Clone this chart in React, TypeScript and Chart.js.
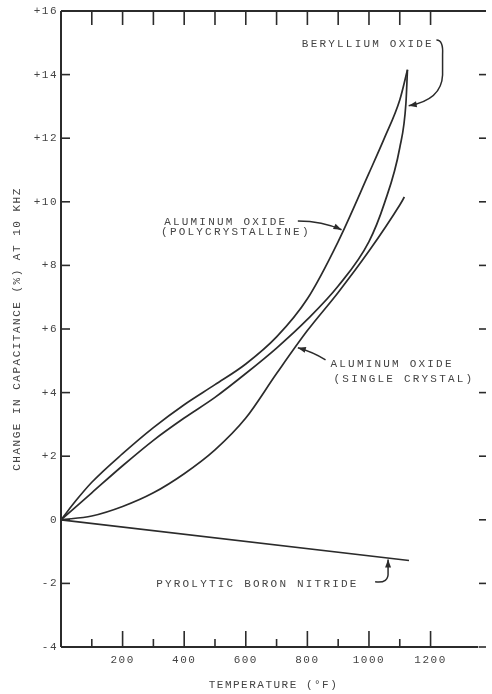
import React, { useEffect, useRef } from 'react';
import { Chart, registerables } from 'chart.js';

Chart.register(...registerables);

// ---------- data (temperature °F, change in capacitance %) ----------
const polyTemps = [0, 50, 100, 200, 300, 400, 500, 600, 700, 800, 900, 1000, 1050, 1100, 1125];
const polyChange = [0, 0.62, 1.18, 2.08, 2.9, 3.62, 4.25, 4.9, 5.75, 6.95, 8.75, 10.9, 12.0, 13.2, 14.15];

const berylTemps = [0, 100, 200, 300, 400, 500, 600, 700, 800, 900, 1000, 1050, 1100, 1120, 1125];
const berylChange = [0, 0.85, 1.7, 2.5, 3.2, 3.85, 4.6, 5.4, 6.3, 7.35, 8.75, 9.95, 11.7, 13.1, 14.15];

const crystalTemps = [0, 100, 200, 300, 400, 500, 600, 700, 800, 900, 1000, 1100, 1115];
const crystalChange = [0, 0.12, 0.42, 0.85, 1.45, 2.2, 3.2, 4.6, 5.95, 7.15, 8.45, 9.9, 10.15];

const boronTemps = [0, 1130];
const boronChange = [0, -1.28];

const xTickValues = [200, 400, 600, 800, 1000, 1200];
const xTickLabels = ['200', '400', '600', '800', '1000', '1200'];
const xMinorTicks = [100, 300, 500, 700, 900, 1100];
const topTicks = [100, 200, 300, 400, 500, 600, 700, 800, 900, 1000, 1100, 1200];

const yTickValues = [-4, -2, 0, 2, 4, 6, 8, 10, 12, 14, 16];
const yTickLabels = ['-4', '-2', '0', '+2', '+4', '+6', '+8', '+10', '+12', '+14', '+16'];

const xTitle = 'TEMPERATURE (°F)';
const yTitle = 'CHANGE IN CAPACITANCE (%) AT 10 KHZ';

// annotation texts (anchored in data coordinates: temp, %)
const annotationTexts = ['BERYLLIUM OXIDE', 'ALUMINUM OXIDE', '(POLYCRYSTALLINE)', 'ALUMINUM OXIDE', '(SINGLE CRYSTAL)', 'PYROLYTIC BORON NITRIDE'];
const annotationX = [782, 335, 325, 875, 885, 309];
const annotationY = [14.97, 9.36, 9.04, 4.91, 4.43, -2.01];

// arrows: [start, control, point, control, point ...] in data coordinates
const berylArrow = [[1219, 15.09], [1242, 15.09], [1239, 14.62], [1239, 14.31], [1239, 13.99], [1236, 13.21], [1129, 13.02]];
const polyArrow = [[769, 9.4], [849, 9.4], [911, 9.12]];
const crystalArrow = [[859, 5.03], [817, 5.28], [769, 5.41]];
const boronArrow = [[1020, -1.95], [1065, -2.01], [1062, -1.64], [1062, -1.45], [1062, -1.25]];
const arrows = [berylArrow, polyArrow, crystalArrow, boronArrow];

const FONT = "'Liberation Mono', 'DejaVu Sans Mono', monospace";
const INK = '#2b2b2b';
const TEXT = '#444';

const toPoints = (xs: number[], ys: number[]) => xs.map((x, i) => ({ x, y: ys[i] }));

export default function App() {
  const ref = useRef<HTMLCanvasElement>(null);

  useEffect(() => {
    const canvas = ref.current;
    if (!canvas) return;

    const spacingPlugin = {
      id: 'spacing',
      beforeLayout(chart: any) { chart.ctx.letterSpacing = '1.5px'; },
      beforeDraw(chart: any) { chart.ctx.letterSpacing = '1.5px'; },
    };

    const framePlugin = {
      id: 'frame',
      afterDraw(chart: any) {
        const { ctx, chartArea, scales } = chart;
        const { left, right, top, bottom } = chartArea;
        const xs = scales.x, ys = scales.y;
        const line = (x1: number, y1: number, x2: number, y2: number) => {
          ctx.beginPath(); ctx.moveTo(x1, y1); ctx.lineTo(x2, y2); ctx.stroke();
        };
        ctx.save();
        ctx.strokeStyle = INK;
        ctx.lineWidth = 2;
        line(left, top, left, bottom);
        line(left, bottom, xs.getPixelForValue(1355), bottom);
        line(left, top, right, top);
        ctx.lineWidth = 1.6;
        yTickValues.forEach(v => {
          const py = ys.getPixelForValue(v);
          line(left, py, left + 9, py);
          line(right - 7, py, right, py);
        });
        xTickValues.forEach(v => { const px = xs.getPixelForValue(v); line(px, bottom, px, bottom - 16); });
        xMinorTicks.forEach(v => { const px = xs.getPixelForValue(v); line(px, bottom, px, bottom - 8); });
        topTicks.forEach(v => { const px = xs.getPixelForValue(v); line(px, top, px, top + 14); });
        ctx.restore();
      },
    };

    const annotationPlugin = {
      id: 'notes',
      afterDraw(chart: any) {
        const { ctx, scales } = chart;
        const xs = scales.x, ys = scales.y;
        ctx.save();
        ctx.letterSpacing = '2.2px';
        ctx.font = `11px ${FONT}`;
        ctx.fillStyle = TEXT;
        ctx.textAlign = 'left';
        ctx.textBaseline = 'middle';
        annotationTexts.forEach((t, i) => {
          ctx.fillText(t, xs.getPixelForValue(annotationX[i]), ys.getPixelForValue(annotationY[i]));
        });
        ctx.strokeStyle = INK;
        ctx.fillStyle = INK;
        ctx.lineWidth = 1.5;
        arrows.forEach(pts => {
          const p = pts.map(([a, b]) => [xs.getPixelForValue(a), ys.getPixelForValue(b)]);
          ctx.beginPath();
          ctx.moveTo(p[0][0], p[0][1]);
          for (let i = 1; i + 1 < p.length; i += 2) {
            ctx.quadraticCurveTo(p[i][0], p[i][1], p[i + 1][0], p[i + 1][1]);
          }
          ctx.stroke();
          const end = p[p.length - 1];
          const prev = p[p.length - 2];
          const ang = Math.atan2(end[1] - prev[1], end[0] - prev[0]);
          const L = 8, W = 3;
          ctx.beginPath();
          ctx.moveTo(end[0], end[1]);
          ctx.lineTo(end[0] - L * Math.cos(ang) + W * Math.sin(ang), end[1] - L * Math.sin(ang) - W * Math.cos(ang));
          ctx.lineTo(end[0] - L * Math.cos(ang) - W * Math.sin(ang), end[1] - L * Math.sin(ang) + W * Math.cos(ang));
          ctx.closePath();
          ctx.fill();
        });
        ctx.restore();
      },
    };

    const lineStyle = {
      borderColor: INK,
      borderWidth: 1.7,
      pointRadius: 0,
      fill: false,
      cubicInterpolationMode: 'monotone' as const,
    };

    const chart = new Chart(canvas, {
      type: 'line',
      data: {
        datasets: [
          { label: 'Aluminum oxide (polycrystalline)', data: toPoints(polyTemps, polyChange), ...lineStyle },
          { label: 'Beryllium oxide', data: toPoints(berylTemps, berylChange), ...lineStyle },
          { label: 'Aluminum oxide (single crystal)', data: toPoints(crystalTemps, crystalChange), ...lineStyle },
          { label: 'Pyrolytic boron nitride', data: toPoints(boronTemps, boronChange), ...lineStyle },
        ],
      },
      options: {
        animation: false,
        responsive: false,
        devicePixelRatio: 1,
        layout: { padding: { top: 11, right: 2, left: 0, bottom: 0 } },
        plugins: { legend: { display: false }, tooltip: { enabled: false } },
        scales: {
          x: {
            type: 'linear',
            min: 0,
            max: 1380,
            grid: { display: false, drawTicks: false },
            border: { display: false },
            ticks: {
              stepSize: 100,
              autoSkip: false,
              maxRotation: 0,
              padding: 6,
              color: TEXT,
              font: { family: FONT, size: 11 },
              callback: (v: any) => {
                const i = xTickValues.indexOf(Number(v));
                return i >= 0 ? xTickLabels[i] : '';
              },
            },
            title: { display: true, text: xTitle, color: TEXT, font: { family: FONT, size: 11 }, padding: { top: 0, bottom: 2 } },
            afterFit: (s: any) => { s.height = 47; },
          },
          y: {
            type: 'linear',
            min: -4,
            max: 16,
            grid: { display: false, drawTicks: false },
            border: { display: false },
            ticks: {
              stepSize: 2,
              autoSkip: false,
              padding: 3,
              color: TEXT,
              font: { family: FONT, size: 11 },
              callback: (v: any) => {
                const i = yTickValues.indexOf(Number(v));
                return i >= 0 ? yTickLabels[i] : '';
              },
            },
            title: { display: true, text: yTitle, color: TEXT, font: { family: FONT, size: 11 }, padding: { top: 10, bottom: 0 } },
            afterFit: (s: any) => { s.width = 61; },
          },
        },
      },
      plugins: [spacingPlugin, framePlugin, annotationPlugin],
    } as any);

    return () => chart.destroy();
  }, []);

  return (
    <div style={{ position: 'fixed', left: 0, top: 0, width: 492, height: 694, background: '#fff' }}>
      <canvas ref={ref} width={492} height={694} style={{ display: 'block' }} />
    </div>
  );
}
